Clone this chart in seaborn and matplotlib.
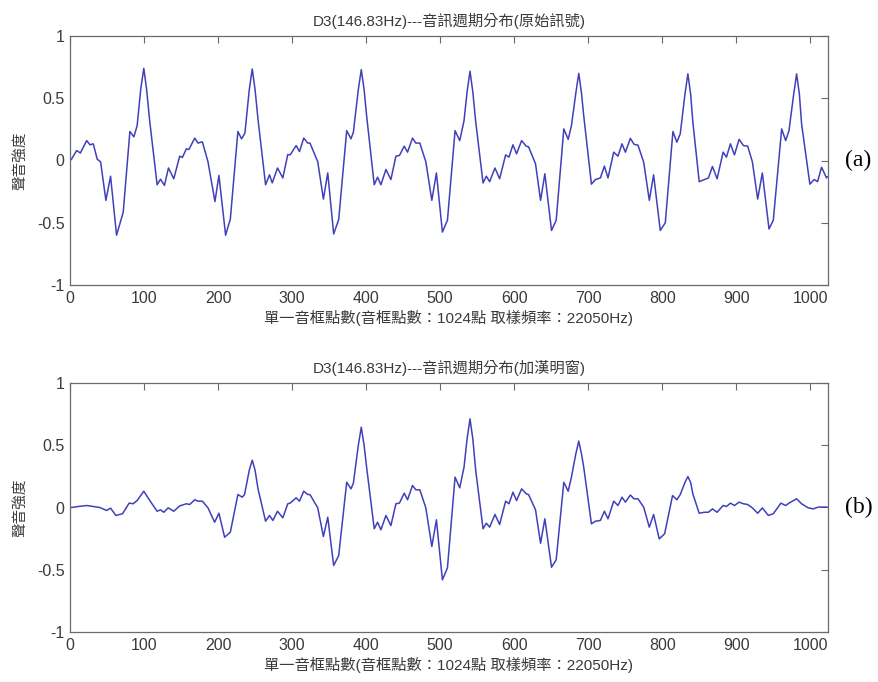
import matplotlib
matplotlib.use("Agg")
import matplotlib.pyplot as plt
import seaborn as sns

# ---- data ----
raw_idx = [0, 2, 9, 14, 22.5, 27, 31.4, 36.8, 41.3, 48.5, 54.8, 62.9, 71.9, 80.9, 86.3, 90.7, 95.7, 99.7, 103.3,
           107.8, 117.7, 122.2, 127.6, 133, 140.2, 148.2, 151.8, 157.2, 160.6, 168.5, 172.9, 178.8, 186.4,
           195.8, 201.2, 210.2, 216.6, 226.8, 231.8, 236.3, 242.2, 246.2, 250, 254, 264.2, 269.5, 273.2,
           280.3, 287.5, 294.2, 297.4, 305.5, 310, 315.8, 321.2, 324.2, 334.7, 342.3, 348.2, 356.2, 363,
           373.8, 379.6, 382.8, 389.5, 393.5, 397.3, 400.7, 411, 415.5, 420, 426.8, 433.5, 440.3, 445,
           451.5, 456, 462.7, 467.2, 472.6, 480.7, 488.8, 495, 503.1, 509.9, 520.2, 526.5, 532.3, 536.4,
           540.4, 544.2, 548.1, 558, 562.4, 566.9, 574.1, 580.4, 588.5, 593, 598.4, 603.3, 610.1, 616.3,
           619.5, 628.9, 635.7, 641.5, 650.5, 656.8, 667.1, 673, 677.4, 683.3, 687.3, 691, 694, 704.4,
           709.8, 716.5, 721.9, 726.8, 734.5, 740.3, 745.7, 750.3, 757, 762, 767.3, 775, 782.6, 788.4,
           797.4, 804.2, 814.5, 819.8, 824.4, 830.7, 834.7, 838.5, 841.4, 850, 857.1, 862.5, 867.9, 874.2,
           882.3, 886.8, 892.2, 897.6, 903.9, 909.7, 915.5, 921.8, 929, 935.3, 944.3, 950.1, 961.4, 966.8,
           971.3, 977.6, 981.6, 985.4, 988.3, 999.5, 1005.4, 1009.9, 1015.3, 1022, 1023]
raw_val = [0.0, 0.01, 0.08, 0.06, 0.16, 0.126, 0.134, 0.01, -0.01, -0.32, -0.126, -0.60, -0.415, 0.233, 0.19, 0.28, 0.58, 0.74, 0.58,
           0.31, -0.195, -0.15, -0.2, -0.06, -0.147, 0.035, 0.024, 0.094, 0.088, 0.18, 0.14, 0.15, -0.01,
           -0.33, -0.12, -0.60, -0.47, 0.233, 0.174, 0.22, 0.57, 0.735, 0.57, 0.33, -0.195, -0.115, -0.18,
           -0.06, -0.14, 0.048, 0.045, 0.12, 0.072, 0.18, 0.14, 0.14, -0.01, -0.31, -0.10, -0.59, -0.474,
           0.24, 0.174, 0.227, 0.57, 0.73, 0.57, 0.36, -0.195, -0.134, -0.195, -0.072, -0.153, 0.035, 0.04,
           0.115, 0.067, 0.18, 0.14, 0.14, -0.01, -0.32, -0.10, -0.575, -0.48, 0.24, 0.16, 0.32, 0.55,
           0.717, 0.55, 0.31, -0.18, -0.126, -0.17, -0.06, -0.147, 0.045, 0.027, 0.126, 0.054, 0.16, 0.115,
           0.11, -0.027, -0.32, -0.107, -0.562, -0.48, 0.254, 0.17, 0.28, 0.54, 0.70, 0.54, 0.36, -0.19,
           -0.153, -0.14, -0.045, -0.14, 0.067, 0.035, 0.134, 0.067, 0.178, 0.13, 0.123, -0.013, -0.32, -0.115,
           -0.562, -0.50, 0.233, 0.147, 0.214, 0.53, 0.696, 0.53, 0.31, -0.17, -0.153, -0.14, -0.048, -0.147,
           0.067, 0.027, 0.134, 0.045, 0.17, 0.12, 0.115, -0.01, -0.31, -0.10, -0.55, -0.48, 0.254, 0.16,
           0.24, 0.53, 0.696, 0.53, 0.295, -0.19, -0.153, -0.17, -0.054, -0.14, -0.13]

win_idx = [0, 2, 11.2, 22.5, 31.4, 40.4, 49.4, 54.8, 62, 71, 79.9, 85.3, 90.7, 99.7, 107.8, 117.7, 122.2, 126.7,
           132.6, 140.2, 148.2, 157.2, 161.7, 168.5, 172.9, 178.8, 186.4, 195.4, 201.2, 208.9, 216.6, 226.8,
           232.7, 235.8, 242.2, 246.2, 250, 254, 264.2, 269.5, 274.1, 280.3, 287.5, 294.2, 297.4, 305.5, 310,
           315.8, 321.2, 324.2, 334.7, 342.3, 348.2, 356.2, 363, 373.8, 379.6, 382.8, 389.5, 393.5, 397.3,
           400.7, 411, 415.5, 420, 426.8, 433.5, 440.3, 445, 451.5, 456, 462.7, 467.2, 472.6, 480.7, 488.8,
           495, 503.1, 509.9, 520.2, 526.5, 532.3, 536.4, 540.4, 544.2, 548.1, 558, 562.4, 566.9, 574.1,
           580.4, 588.5, 593, 598.4, 603.3, 610.1, 616.3, 619.5, 628.9, 635.7, 641.5, 650.5, 656.8, 667.1,
           673, 677.4, 683.3, 687.3, 691, 694, 704.4, 709.8, 716.5, 721.9, 726.8, 734.5, 740.3, 745.7, 750.3,
           757, 762, 767.3, 775, 782.6, 788.4, 796, 803.3, 814, 819.8, 824.4, 830.7, 834.7, 838.5, 841.4,
           850, 857.1, 862.5, 867.9, 874.2, 882.3, 886.8, 892.2, 897.6, 903.9, 909.7, 915.5, 921.8, 929,
           935.3, 943.4, 950.1, 960.4, 966.8, 971.3, 981.6, 988.3, 997.3, 1004.1, 1010.8, 1019.8, 1023]
win_val = [0.0, 0.0, 0.008, 0.016, 0.008, 0.0, -0.024, -0.005, -0.064, -0.05, 0.035, 0.03, 0.056, 0.131, 0.056, -0.03, -0.019, -0.038,
           -0.003, -0.03, 0.013, 0.03, 0.024, 0.062, 0.051, 0.051, -0.003, -0.118, -0.046, -0.239, -0.198, 0.104,
           0.083, 0.104, 0.30, 0.38, 0.30, 0.15, -0.11, -0.064, -0.104, -0.03, -0.083, 0.03, 0.035, 0.078, 0.051,
           0.131, 0.104, 0.104, -0.003, -0.233, -0.078, -0.466, -0.386, 0.203, 0.15, 0.195, 0.50, 0.645, 0.50,
           0.324, -0.171, -0.118, -0.179, -0.064, -0.145, 0.03, 0.035, 0.115, 0.062, 0.177, 0.142, 0.142, -0.003, -0.313,
           -0.099, -0.581, -0.485, 0.244, 0.158, 0.324, 0.55, 0.712, 0.55, 0.297, -0.171, -0.126, -0.158, -0.056,
           -0.137, 0.051, 0.03, 0.123, 0.056, 0.15, 0.11, 0.104, -0.019, -0.287, -0.091, -0.48, -0.42, 0.203,
           0.131, 0.244, 0.43, 0.533, 0.43, 0.324, -0.131, -0.11, -0.104, -0.03, -0.091, 0.051, 0.016, 0.083, 0.043,
           0.10, 0.07, 0.07, 0.003, -0.158, -0.056, -0.252, -0.211, 0.096, 0.062, 0.104, 0.20, 0.249, 0.20, 0.11,
           -0.046, -0.038, -0.038, -0.011, -0.038, 0.016, 0.008, 0.035, 0.016, 0.043, 0.03, 0.024, -0.003, -0.046,
           -0.003, -0.064, -0.05, 0.035, 0.016, 0.035, 0.07, 0.03, -0.003, -0.011, 0.003, 0.003, 0.003]

titles = ["D3(146.83Hz)---音訊週期分布(原始訊號)", "D3(146.83Hz)---音訊週期分布(加漢明窗)"]
xlabel = "單一音框點數(音框點數：1024點 取樣頻率：22050Hz)"
ylabel = "聲音強度"
panel_tags = ["(a)", "(b)"]
xticks = [0, 100, 200, 300, 400, 500, 600, 700, 800, 900, 1000]
yticks = [-1, -0.5, 0, 0.5, 1]
ytick_labels = ["-1", "-0.5", "0", "0.5", "1"]

# ---- style ----
sns.set_style("white")
plt.rcParams['font.family'] = ['Liberation Sans', 'Noto Sans CJK TC', 'DejaVu Sans']
text_color = "#3a3a3a"
axis_color = "#6a6a6a"
line_color = "#4040bb"

fig = plt.figure(figsize=(8.79, 6.82), dpi=100)
ax_top = fig.add_axes([70/879, 1-285/682, 758/879, 249/682])
ax_bot = fig.add_axes([70/879, 1-632/682, 758/879, 249/682])

series = [(raw_idx, raw_val), (win_idx, win_val)]
for ax, (xs, ys), title, tag in zip([ax_top, ax_bot], series, titles, panel_tags):
    line = sns.lineplot(x=xs, y=ys, ax=ax, color=line_color, linewidth=1.1)
    for ln in ax.lines:
        ln.set_solid_joinstyle('round')
        ln.set_solid_capstyle('round')
    ax.set_xlim(0, 1024)
    ax.set_ylim(-1, 1)
    ax.set_xticks(xticks)
    ax.set_xticklabels([str(t) for t in xticks])
    ax.set_yticks(yticks)
    ax.set_yticklabels(ytick_labels)
    ax.tick_params(direction='in', top=True, right=True, length=5, width=0.8,
                   colors=axis_color, labelcolor=text_color, labelsize=11.5, pad=4)
    for sp in ax.spines.values():
        sp.set_visible(True)
        sp.set_color(axis_color)
        sp.set_linewidth(0.9)
    ax.set_title(title, fontsize=11, color=text_color, pad=7)
    ax.set_xlabel(xlabel, fontsize=11, color=text_color, labelpad=3)
    ax.set_ylabel(ylabel, fontsize=10.5, color=text_color, labelpad=7)
    ax.text(1.04, 0.5, tag, transform=ax.transAxes, ha='center', va='center',
            fontsize=17, family=['Liberation Serif'], color='black')

fig.savefig("out.png", dpi=100, facecolor="white")
